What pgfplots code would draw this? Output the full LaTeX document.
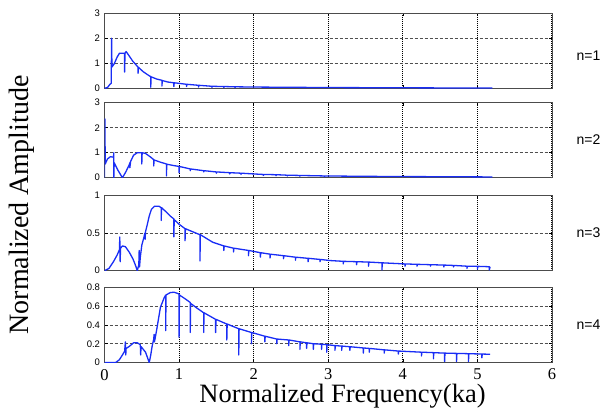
\documentclass[border=0pt]{standalone}
\usepackage{fontspec}
\setmainfont{Liberation Serif}
\newfontfamily\arialf{Liberation Sans}
\usepackage{pgfplots}
\pgfplotsset{compat=1.18}
\definecolor{specblue}{RGB}{25,45,245}
\definecolor{gridgrey}{RGB}{80,80,80}

\pgfplotsset{
  panel/.style={
    scale only axis, width=447.5pt, height=75pt,
    anchor=south west,
    xmin=0, xmax=6, xtick={0,...,6},
    xticklabels={},
    axis line style={black!70, line width=0.9pt},
    tick style={black, line width=0.6pt},
    major tick length=3pt,
    tick align=inside,
    xmajorgrids, ymajorgrids,
    x grid style={black, line width=1.1pt, dash pattern=on 1pt off 1pt},
    y grid style={gridgrey, line width=0.7pt, dash pattern=on 3pt off 2pt},
    yticklabel style={font=\arialf\fontsize{9.5}{10}\selectfont, xshift=-1pt},
    /pgf/number format/assume math mode=true,
  },
  spec/.style={specblue, line width=1.3pt, line join=round, no marks},
}

\begin{document}
\begin{tikzpicture}
\useasboundingbox (0,0) rectangle (602pt,415pt);

% n=1
\begin{axis}[panel, at={(104.5pt,326.7pt)}, ymin=0, ymax=3, ytick={0,1,2,3}]
\addplot[spec] coordinates {
(0,0) (0.04,0.03) (0.07,0.15) (0.09,0.2) (0.095,2.0) (0.1,0.85) (0.13,0.98)
(0.17,1.25) (0.2,1.4) (0.25,1.4) (0.27,1.4) (0.27,0.65) (0.275,1.4) (0.29,1.47)
(0.33,1.3) (0.38,1.08) (0.44,0.88) (0.45,0.85) (0.45,0.6) (0.455,0.84)
(0.52,0.66) (0.6,0.5) (0.62,0.47) (0.62,0.04) (0.625,0.46) (0.7,0.37)
(0.77,0.32) (0.77,0.09) (0.775,0.31) (0.85,0.25) (0.93,0.22) (0.93,0.07)
(0.935,0.22) (1.02,0.19) (1.1,0.16) (1.1,0.07) (1.105,0.16) (1.26,0.12)
(1.26,0.05) (1.265,0.12) (1.44,0.08) (1.44,0.03) (1.445,0.08) (1.6,0.07)
(1.6,0.03) (1.605,0.07) (1.75,0.06) (1.75,0.02) (1.755,0.06) (2.0,0.05)
(2.5,0.04) (3.0,0.03) (3.5,0.025) (4.0,0.02) (4.5,0.015) (5.2,0.01)
};
\end{axis}

% n=2
\begin{axis}[panel, at={(104.5pt,237.3pt)}, ymin=0, ymax=3, ytick={0,1,2,3}]
\addplot[spec] coordinates {
(0,0) (0.005,2.35) (0.01,0.55) (0.04,0.75) (0.08,0.84) (0.12,0.82)
(0.125,1.0) (0.125,0.0) (0.13,0.6) (0.18,0.3) (0.24,0.0) (0.28,0.2)
(0.33,0.5) (0.34,0.6) (0.34,0.4) (0.35,0.65) (0.39,0.9) (0.44,1.0) (0.5,1.0)
(0.5,0.55) (0.505,1.0) (0.55,0.97) (0.62,0.82) (0.66,0.72) (0.66,0.47)
(0.665,0.71) (0.75,0.62) (0.83,0.55) (0.83,0.07) (0.835,0.54) (0.92,0.49)
(1.0,0.45) (1.0,0.2) (1.005,0.45) (1.15,0.35) (1.15,0.28) (1.155,0.35)
(1.33,0.28) (1.33,0.23) (1.335,0.28) (1.5,0.23) (1.5,0.18) (1.505,0.23)
(1.68,0.2) (1.68,0.15) (1.685,0.2) (1.83,0.18) (1.83,0.13) (1.835,0.18)
(2.0,0.15) (2.13,0.13) (2.13,0.09) (2.135,0.13) (2.3,0.12) (2.3,0.08)
(2.305,0.12) (2.45,0.1) (2.45,0.07) (2.455,0.1) (2.62,0.09) (2.62,0.06)
(2.625,0.09) (2.95,0.07) (2.95,0.04) (2.955,0.07) (3.5,0.055) (4.0,0.045)
(4.5,0.04) (5.2,0.03)
};
\end{axis}

% n=3
\begin{axis}[panel, at={(104.5pt,144.3pt)}, ymin=0, ymax=1, ytick={0,0.5,1}]
\addplot[spec] coordinates {
(0,0) (0.06,0.03) (0.12,0.12) (0.17,0.21) (0.2,0.28) (0.205,0.45) (0.21,0.12)
(0.215,0.3) (0.24,0.33) (0.28,0.32) (0.33,0.25) (0.38,0.16) (0.42,0.06)
(0.44,0.0) (0.46,0.08) (0.465,0.27) (0.47,0.05) (0.48,0.18) (0.5,0.34)
(0.53,0.45) (0.54,0.5) (0.545,0.42) (0.55,0.52) (0.57,0.6) (0.6,0.73)
(0.63,0.82) (0.67,0.86) (0.73,0.86) (0.76,0.84) (0.76,0.67) (0.765,0.84)
(0.82,0.79) (0.88,0.73) (0.93,0.69) (0.93,0.45) (0.935,0.68) (1.0,0.62)
(1.08,0.56) (1.08,0.4) (1.085,0.56) (1.18,0.52) (1.28,0.48) (1.28,0.13)
(1.285,0.48) (1.45,0.38) (1.6,0.33) (1.6,0.27) (1.605,0.33) (1.73,0.3)
(1.73,0.25) (1.735,0.3) (1.93,0.27) (1.93,0.2) (1.935,0.27) (2.09,0.24)
(2.09,0.18) (2.095,0.24) (2.22,0.22) (2.22,0.17) (2.225,0.22) (2.4,0.2)
(2.4,0.16) (2.405,0.2) (2.56,0.18) (2.56,0.14) (2.565,0.18) (2.73,0.165)
(2.73,0.12) (2.735,0.165) (2.89,0.15) (2.89,0.12) (2.895,0.15) (3.03,0.135)
(3.2,0.125) (3.2,0.09) (3.205,0.125) (3.38,0.12) (3.38,0.08) (3.385,0.12)
(3.54,0.115) (3.54,0.06) (3.545,0.115) (3.72,0.105) (3.72,0.01) (3.725,0.105)
(4.03,0.09) (4.03,0.06) (4.035,0.09) (4.19,0.085) (4.19,0.06) (4.195,0.085)
(4.37,0.08) (4.37,0.06) (4.375,0.08) (4.55,0.075) (4.55,0.05) (4.555,0.075)
(4.68,0.07) (4.68,0.05) (4.685,0.07) (4.86,0.06) (4.86,0.03) (4.865,0.06)
(5.0,0.058) (5.0,0.02) (5.005,0.058) (5.16,0.053) (5.16,0.01) (5.17,0.053)
};
\end{axis}

% n=4
\begin{axis}[panel, at={(104.5pt,52.5pt)}, ymin=0, ymax=0.8,
  ytick={0,0.2,0.4,0.6,0.8},
  xticklabels={0,1,2,3,4,5,6},
  xticklabel style={font=\fontsize{16.5}{18}\selectfont, yshift=-3pt}]
\addplot[spec] coordinates {
(0,0) (0.15,0.0) (0.2,0.03) (0.24,0.08) (0.27,0.12) (0.28,0.22) (0.285,0.08)
(0.29,0.15) (0.33,0.17) (0.39,0.21) (0.44,0.21) (0.48,0.19) (0.485,0.08)
(0.49,0.17) (0.55,0.11) (0.6,0.0) (0.62,0.08) (0.64,0.18) (0.66,0.25)
(0.665,0.3) (0.67,0.22) (0.7,0.35) (0.75,0.59) (0.8,0.69) (0.82,0.72)
(0.82,0.34) (0.825,0.72) (0.88,0.745) (0.93,0.75) (0.97,0.74) (1.0,0.73)
(1.0,0.27) (1.005,0.72) (1.08,0.68) (1.15,0.64) (1.15,0.32) (1.155,0.63)
(1.24,0.58) (1.33,0.53) (1.33,0.32) (1.335,0.53) (1.49,0.46) (1.49,0.32)
(1.495,0.46) (1.64,0.41) (1.64,0.24) (1.645,0.41) (1.8,0.36) (1.8,0.08)
(1.805,0.36) (1.97,0.32) (1.97,0.2) (1.975,0.32) (2.15,0.28) (2.15,0.22)
(2.155,0.28) (2.31,0.25) (2.31,0.2) (2.315,0.25) (2.47,0.24) (2.47,0.18)
(2.475,0.24) (2.62,0.22) (2.62,0.14) (2.625,0.22) (2.71,0.21) (2.71,0.15)
(2.715,0.21) (2.8,0.2) (2.8,0.14) (2.805,0.2) (2.91,0.195) (2.91,0.14)
(2.915,0.195) (2.98,0.19) (2.98,0.11) (2.985,0.19) (3.09,0.18) (3.09,0.13)
(3.095,0.18) (3.18,0.175) (3.18,0.13) (3.185,0.175) (3.29,0.168) (3.29,0.13)
(3.295,0.168) (3.47,0.155) (3.47,0.1) (3.475,0.155) (3.55,0.15) (3.55,0.11)
(3.555,0.15) (3.75,0.135) (3.75,0.1) (3.755,0.135) (3.94,0.122) (3.94,0.09)
(3.945,0.122) (4.25,0.11) (4.25,0.07) (4.255,0.11) (4.41,0.105) (4.41,0.04)
(4.415,0.105) (4.56,0.1) (4.56,0.01) (4.565,0.1) (4.72,0.097) (4.72,0.01)
(4.725,0.097) (4.88,0.094) (4.88,0.01) (4.885,0.094) (5.06,0.09) (5.06,0.05)
(5.065,0.09) (5.17,0.088)
};
\end{axis}

\node[anchor=base, font=\fontsize{26.5}{28}\selectfont] at (342.5pt,12.3pt) {Normalized Frequency(ka)};
\node[rotate=90, font=\fontsize{28}{30}\selectfont] at (22pt,210pt) {Normalized Amplitude};
\node[anchor=west, font=\arialf\fontsize{14}{16}\selectfont] at (573pt,359pt) {n=1};
\node[anchor=west, font=\arialf\fontsize{14}{16}\selectfont] at (573pt,275pt) {n=2};
\node[anchor=west, font=\arialf\fontsize{14}{16}\selectfont] at (573pt,182pt) {n=3};
\node[anchor=west, font=\arialf\fontsize{14}{16}\selectfont] at (573pt,90pt) {n=4};
\end{tikzpicture}
\end{document}
